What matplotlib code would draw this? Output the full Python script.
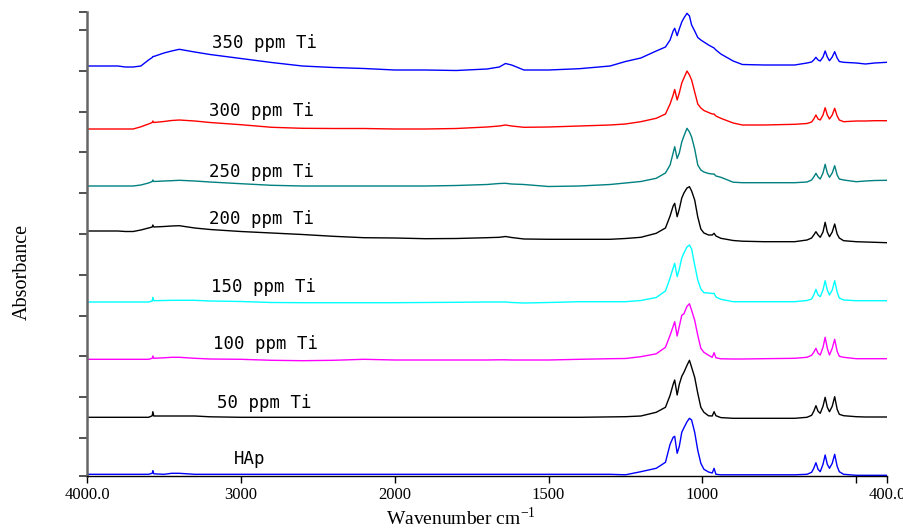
import numpy as np
import matplotlib
matplotlib.use("Agg")
import matplotlib.pyplot as plt

plt.rcParams['mathtext.fontset'] = 'stix'

# ---------------- data ----------------
wavenumber = [4000, 3800, 3750, 3700, 3650, 3600, 3576, 3572, 3566, 3500,
              3450, 3400, 3300, 3200, 3000, 2800, 2600, 2400, 2200, 2000,
              1900, 1800, 1700, 1660, 1640, 1620, 1580, 1500, 1400, 1300,
              1250, 1200, 1150, 1120, 1105, 1095, 1090, 1082, 1075, 1067,
              1060, 1050, 1042, 1035, 1025, 1015, 1005, 995, 980, 968,
              962, 956, 940, 900, 870, 800, 700, 660, 645, 638,
              631, 624, 617, 608, 601, 594, 587, 578, 570, 562,
              555, 541, 500, 470, 440, 400]

# absorbance (arbitrary units), each spectrum relative to its own start value
ti350 = [0, 0, -1, -1, 0, 6, 8.5, 9.5, 9.5, 13,
         15, 16.7, 14, 11.5, 7.5, 3.5, 0, -1.5, -2.5, -4,
         -4, -4.5, -3, -1, 2.5, 1, -4, -4, -2.7, 0,
         4.5, 8, 15, 19, 26, 35, 37.7, 30.3, 37, 44,
         48, 52.7, 50, 41, 35, 28.5, 26, 24, 21, 19,
         18, 16, 12, 5, 1.5, 1, 1, 3, 4, 6,
         8.7, 6, 5, 9, 15, 9, 5.3, 9, 14.3, 8,
         4.5, 3.7, 3, 2, 3, 3.7]
ti300 = [0, 0, 0, 0, 2.2, 5, 6.5, 8, 6.5, 7.5,
         8.5, 9, 8, 6.5, 4.3, 1.7, 0.7, 0.5, 0.5, 0,
         0, 0.5, 2, 3, 4, 3, 1.7, 2, 3, 4,
         5, 7.3, 10.7, 15, 25, 34, 39.5, 29, 36, 46,
         51, 58, 54, 49, 37, 25, 21, 18.5, 16.5, 15,
         15, 13, 10.7, 6, 4, 4, 4.7, 5.5, 7, 10,
         14, 10, 9, 14, 21.3, 14, 10, 14, 20.7, 13,
         9, 7.3, 8, 8, 8.3, 8.3]
ti250 = [0, 0, 0, 0, 1, 3, 4.5, 6, 4.5, 5,
         5.3, 5.7, 5, 4, 2.3, 0.7, 0, 0, 0, 0,
         0, 0.5, 1.5, 2.5, 2.7, 2, 1.5, -0.5, 0, 1.5,
         3, 4.5, 7.7, 13, 21, 33, 39.3, 27.5, 33, 44,
         50, 57.7, 54, 49, 37, 21, 16, 14, 12.5, 12,
         12, 10, 8.7, 3.8, 3.3, 3.3, 3.3, 4, 6, 9,
         12.7, 9, 7, 13, 21.7, 13, 8.7, 13, 20.3, 11,
         7, 6, 4.3, 5, 5.5, 5.7]
ti200 = [0, 0, -0.5, -0.5, 1, 3, 4, 6, 4, 4.5,
         5, 5.3, 3, 1.5, -0.5, -2, -3.5, -5.3, -6.7, -7,
         -7.7, -7.5, -6.7, -6.3, -5.5, -6.5, -8, -8.3, -8.3, -8.3,
         -7.5, -6.3, -2.3, 3, 15, 25, 27.7, 14.3, 22, 33,
         38, 43, 44.3, 40, 31, 14, 2, -2, -4, -4,
         -2.3, -5, -7.3, -9.5, -10.2, -10.7, -10.7, -9, -7, -4,
         -0.7, -4, -6.3, -1, 8.7, -1, -5.7, -1, 7, -3,
         -7, -9.7, -10.7, -11, -11.3, -11.7]
ti150 = [0, 0, 0, 0, 0, 0, 1, 4.7, 1.3, 1.5,
         1.7, 1.7, 1.7, 1, 0.5, -0.5, -0.7, -0.7, -0.7, -0.7,
         -0.5, -0.3, 0, 0, 0, -0.5, -1, -0.5, 0.3, 0.3,
         0.3, 1.5, 4.5, 11, 24, 34, 38.7, 25.3, 33, 44,
         49, 55, 57, 53, 37, 22, 13, 9.3, 9, 8.5,
         8.7, 5, 2.7, 0.3, 0.3, 0.3, 0.3, 1.5, 3, 7,
         12.7, 7, 5.3, 12, 21.3, 12, 7, 12, 21.3, 10,
         4, 2, 1.3, 1.3, 1.3, 1.3]
ti100 = [0, 0, 0, 0, 0, 0, 1, 3.3, 1, 1.5,
         2, 2, 1, 0.3, 0, -1, -1.4, -1, 0, -0.7,
         -0.7, -0.7, -0.7, -0.5, -0.5, -0.7, -0.7, -0.7, 0, 0.6,
         0.8, 2.6, 5.5, 12, 24, 33, 37.6, 23.3, 33, 44,
         45.5, 53, 55.5, 49, 39, 24, 11, 7, 4, 2,
         6.6, 1.5, 0.5, 0.3, 0.3, 0.6, 1, 2, 4, 7,
         11, 6, 4.3, 12, 22, 11, 4.3, 11, 20, 8,
         3, 2, 0.6, 0.6, 0.6, 0.6]
ti50 = [0, 0, 0, 0, 0, 0, 1.5, 5.6, 1.3, 1.3,
        1.3, 1.3, 1.3, 0.5, 0, 0, 0, 0, 0, 0,
        0, 0, 0, 0, 0, 0, 0, 0, 0, 0.4,
        0.6, 1.3, 5, 10, 22, 33, 37.3, 22.3, 33, 41,
        45, 52, 57, 50, 40, 24, 10, 5, 1.5, 1.3,
        5.6, 1.6, -0.3, -1, -1, -1, -1, 0, 2, 6,
        11.6, 6, 4, 11, 20, 10, 5.6, 11, 20.6, 8,
        3, 1.6, 0.6, 0.3, 0.3, 0.3]
hap = [0, 0, 0, 0, 0, 0, 1, 3.6, 0.5, 0,
       1, 1, 0, 0, 0, 0, 0, 0, 0, 0,
       0, 0, 0, 0, 0, 0, 0, 0, 0, 0,
       -0.5, 2.6, 6, 12, 30, 37, 38, 21, 28, 42,
       46.5, 52.5, 56, 54.3, 42, 24, 11, 5, 2.3, 1.3,
       6, 0, -0.5, -0.5, -0.5, -0.5, -0.5, 0, 2, 6,
       11.6, 5, 2.6, 10, 19.3, 10, 6, 11, 20, 8,
       2.6, 0, -1, -1, -1, -1]

labels = ["HAp", "50 ppm Ti", "100 ppm Ti", "150 ppm Ti",
          "200 ppm Ti", "250 ppm Ti", "300 ppm Ti", "350 ppm Ti"]
spectra = [hap, ti50, ti100, ti150, ti200, ti250, ti300, ti350]
offsets = [1.7, 58.7, 116.7, 174, 245, 290, 347, 410]   # vertical stacking
colors = ["#0000FF", "#000000", "#FF00FF", "#00FFFF",
          "#000000", "#008080", "#FF0000", "#0000FF"]
label_pos = [(0.183, 0.026), (0.162, 0.146), (0.157, 0.273), (0.155, 0.397),
             (0.1525, 0.5425), (0.1525, 0.645), (0.1525, 0.776), (0.156, 0.9218)]

xticks = [4000, 3000, 2000, 1500, 1000, 500, 400]
xticklabels = ["4000.0", "3000", "2000", "1500", "1000", "", "400.0"]
yticks = [0, 38, 78.8, 119.6, 160.4, 201.2, 242, 282.8, 323.6, 364.4, 405.2, 446, 464]

# ---------------- figure ----------------
fig = plt.figure(figsize=(9.04, 5.29), dpi=100)
ax = fig.add_axes([87/904, (529-476)/529, 800/904, 464/529])


def fwd(x):
    x = np.asarray(x, dtype=float)
    return np.where(x >= 2000, x, 2*x - 2000)


def inv(t):
    t = np.asarray(t, dtype=float)
    return np.where(t >= 2000, t, (t + 2000) / 2)


ax.set_xscale('function', functions=(fwd, inv))

w = np.array(wavenumber, dtype=float)
for s, off, c in zip(spectra, offsets, colors):
    assert len(s) == len(w)
    ax.plot(w, np.array(s) + off, color=c, lw=1.0)

for lab, (lx, ly) in zip(labels, label_pos):
    ax.text(lx, ly, lab, transform=ax.transAxes, ha='left', va='baseline',
            fontsize=12.5, family='DejaVu Sans Mono', color='#000000')

ax.set_xlim(4000, 400)
ax.set_ylim(0, 464)
ax.set_xticks(xticks)
ax.set_xticklabels(xticklabels, family='Liberation Serif', fontsize=12)
ax.xaxis.set_minor_locator(matplotlib.ticker.NullLocator())
ax.set_yticks(yticks)
ax.set_yticklabels([])
ax.tick_params(axis='x', direction='out', length=5, width=1, pad=3, colors='black')
ax.tick_params(axis='y', direction='out', length=6, width=1.2, color='#333333')

for side in ['top', 'right']:
    ax.spines[side].set_visible(False)
ax.spines['left'].set_color('#666666')
ax.spines['left'].set_linewidth(1.8)
ax.spines['bottom'].set_color('black')
ax.spines['bottom'].set_linewidth(1.0)

fig.text(22/904, (529-272)/529, "Absorbance", rotation=90, ha='center', va='center',
         family='Liberation Serif', fontsize=14.5)
fig.text(461/904, 0.007, r"Wavenumber cm$^{\mathregular{-1}}$", ha='center', va='baseline',
         family='Liberation Serif', fontsize=14)

fig.savefig("out.png", dpi=100)
